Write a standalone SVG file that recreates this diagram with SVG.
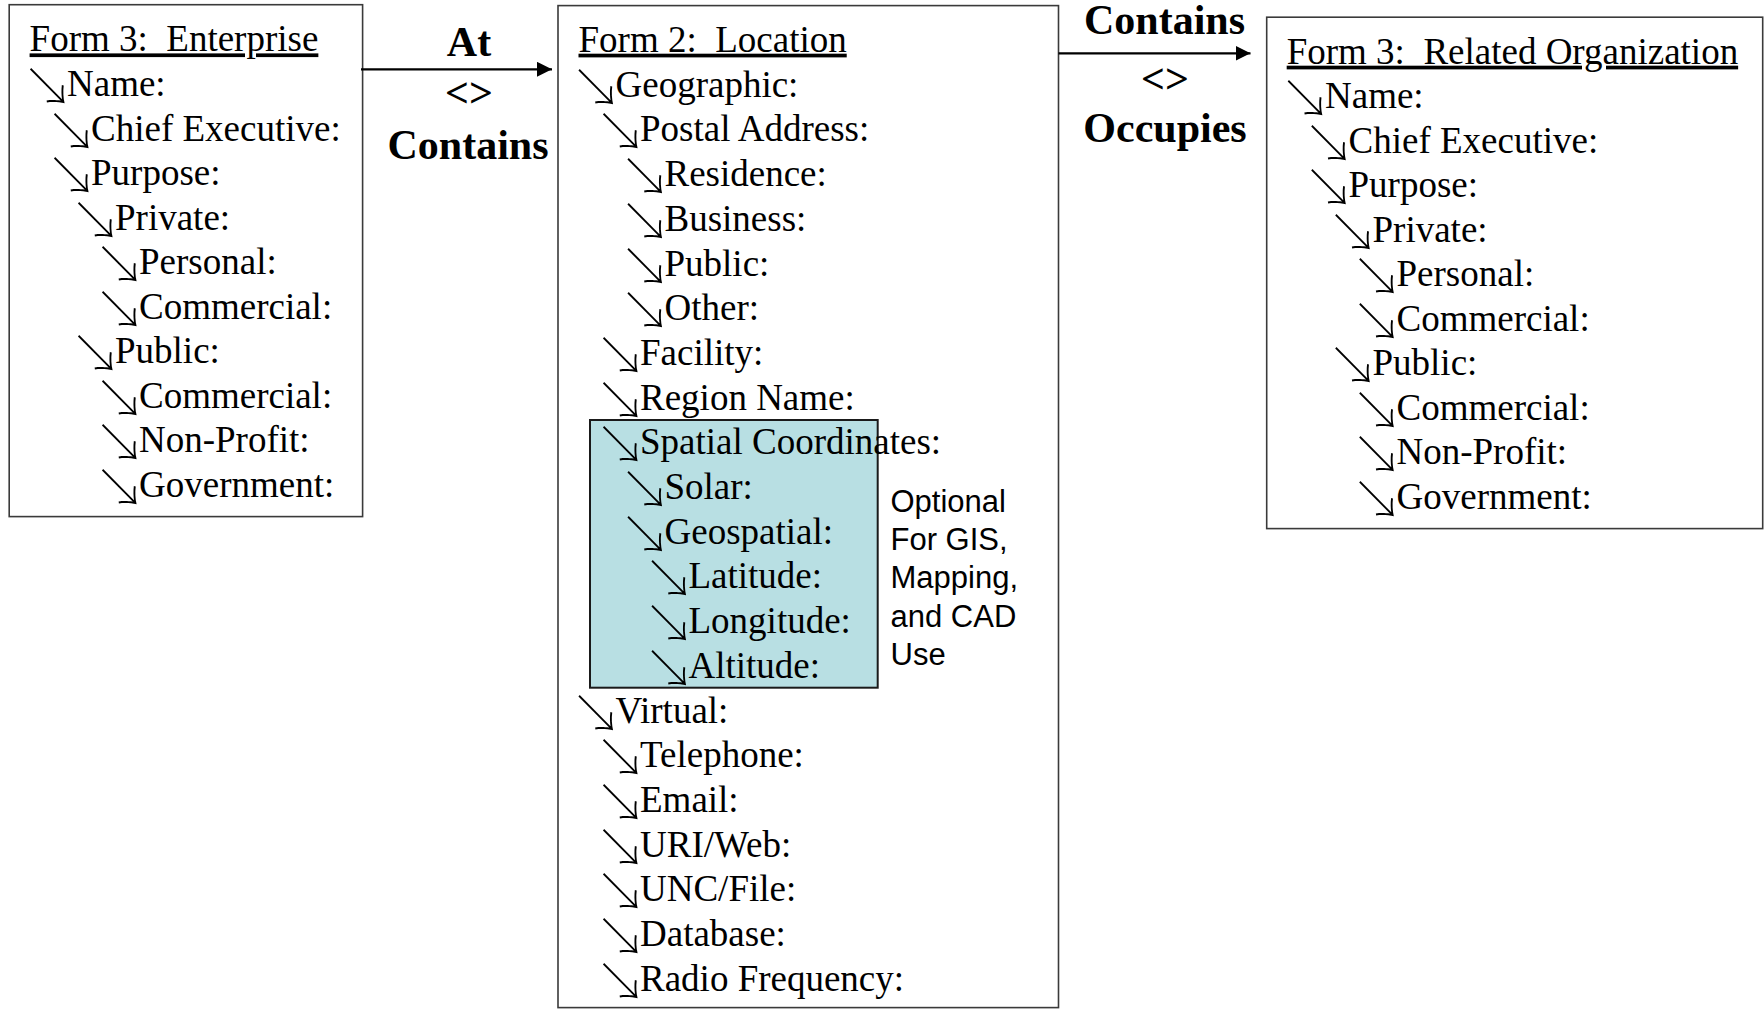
<svg xmlns="http://www.w3.org/2000/svg" width="1764" height="1009" viewBox="0 0 1764 1009">
<defs>
<style>
.box{fill:#fff;stroke:#3a3a3a;stroke-width:1.6}
.hl{fill:#b8dfe3;stroke:#1a1a1a;stroke-width:2}
.t{font-family:"Liberation Serif","Times New Roman",serif;font-size:37px;fill:#000;white-space:pre}
.u{text-decoration:underline}
.a{font-family:"Noto Sans CJK JP","DejaVu Sans",sans-serif;font-size:52px;font-weight:100}
.lbl{font-family:"Liberation Serif","Times New Roman",serif;font-size:42px;font-weight:bold;fill:#000;text-anchor:middle}
.note{font-family:"Liberation Sans",Arial,sans-serif;font-size:31px;fill:#000}
.conn{stroke:#000;stroke-width:2.2;fill:none}
</style>
<marker id="ah" viewBox="0 0 15 15" refX="15" refY="7.5" markerWidth="15" markerHeight="15" markerUnits="userSpaceOnUse" orient="auto">
<path d="M0,0 L15,7.5 L0,15 Z" fill="#000"/>
</marker>
</defs>

<g id="enterprise">
<rect class="box" x="9.2" y="4.7" width="353.4" height="511.9"/>
<text class="t u" x="29.6" y="51.4">Form 3:  Enterprise</text>
<text class="t" y="96"><tspan class="a" x="21.4" dy="10">↘</tspan><tspan x="67" dy="-10">Name:</tspan></text>
<text class="t" y="140.5"><tspan class="a" x="45.5" dy="10">↘</tspan><tspan x="91" dy="-10">Chief Executive:</tspan></text>
<text class="t" y="185"><tspan class="a" x="45.5" dy="10">↘</tspan><tspan x="91" dy="-10">Purpose:</tspan></text>
<text class="t" y="229.6"><tspan class="a" x="69.5" dy="10">↘</tspan><tspan x="115" dy="-10">Private:</tspan></text>
<text class="t" y="274.2"><tspan class="a" x="93.6" dy="10">↘</tspan><tspan x="139" dy="-10">Personal:</tspan></text>
<text class="t" y="318.7"><tspan class="a" x="93.6" dy="10">↘</tspan><tspan x="139" dy="-10">Commercial:</tspan></text>
<text class="t" y="363.3"><tspan class="a" x="69.5" dy="10">↘</tspan><tspan x="115" dy="-10">Public:</tspan></text>
<text class="t" y="407.8"><tspan class="a" x="93.6" dy="10">↘</tspan><tspan x="139" dy="-10">Commercial:</tspan></text>
<text class="t" y="452.4"><tspan class="a" x="93.6" dy="10">↘</tspan><tspan x="139" dy="-10">Non-Profit:</tspan></text>
<text class="t" y="497"><tspan class="a" x="93.6" dy="10">↘</tspan><tspan x="139" dy="-10">Government:</tspan></text>
</g>

<g id="location">
<rect class="box" x="558" y="5.6" width="500.5" height="1002"/>
<rect id="spatial-highlight" class="hl" x="590" y="420" width="287.7" height="267.7"/>
<text class="t u" x="578.5" y="51.7">Form 2:  Location</text>
<text class="t" y="96.7"><tspan class="a" x="570" dy="10">↘</tspan><tspan x="615.5" dy="-10">Geographic:</tspan></text>
<text class="t" y="141.4"><tspan class="a" x="594.5" dy="10">↘</tspan><tspan x="640" dy="-10">Postal Address:</tspan></text>
<text class="t" y="186.1"><tspan class="a" x="619" dy="10">↘</tspan><tspan x="664.5" dy="-10">Residence:</tspan></text>
<text class="t" y="230.8"><tspan class="a" x="619" dy="10">↘</tspan><tspan x="664.5" dy="-10">Business:</tspan></text>
<text class="t" y="275.5"><tspan class="a" x="619" dy="10">↘</tspan><tspan x="664.5" dy="-10">Public:</tspan></text>
<text class="t" y="320.2"><tspan class="a" x="619" dy="10">↘</tspan><tspan x="664.5" dy="-10">Other:</tspan></text>
<text class="t" y="364.9"><tspan class="a" x="594.5" dy="10">↘</tspan><tspan x="640" dy="-10">Facility:</tspan></text>
<text class="t" y="409.6"><tspan class="a" x="594.5" dy="10">↘</tspan><tspan x="640" dy="-10">Region Name:</tspan></text>
<text class="t" y="454.3"><tspan class="a" x="594.5" dy="10">↘</tspan><tspan x="640" dy="-10">Spatial Coordinates:</tspan></text>
<text class="t" y="499"><tspan class="a" x="619" dy="10">↘</tspan><tspan x="664.5" dy="-10">Solar:</tspan></text>
<text class="t" y="543.7"><tspan class="a" x="619" dy="10">↘</tspan><tspan x="664.5" dy="-10">Geospatial:</tspan></text>
<text class="t" y="588.4"><tspan class="a" x="643" dy="10">↘</tspan><tspan x="688.5" dy="-10">Latitude:</tspan></text>
<text class="t" y="633.1"><tspan class="a" x="643" dy="10">↘</tspan><tspan x="688.5" dy="-10">Longitude:</tspan></text>
<text class="t" y="677.8"><tspan class="a" x="643" dy="10">↘</tspan><tspan x="688.5" dy="-10">Altitude:</tspan></text>
<text class="t" y="722.5"><tspan class="a" x="570" dy="10">↘</tspan><tspan x="615.5" dy="-10">Virtual:</tspan></text>
<text class="t" y="767.2"><tspan class="a" x="594.5" dy="10">↘</tspan><tspan x="640" dy="-10">Telephone:</tspan></text>
<text class="t" y="811.9"><tspan class="a" x="594.5" dy="10">↘</tspan><tspan x="640" dy="-10">Email:</tspan></text>
<text class="t" y="856.6"><tspan class="a" x="594.5" dy="10">↘</tspan><tspan x="640" dy="-10">URI/Web:</tspan></text>
<text class="t" y="901.3"><tspan class="a" x="594.5" dy="10">↘</tspan><tspan x="640" dy="-10">UNC/File:</tspan></text>
<text class="t" y="946"><tspan class="a" x="594.5" dy="10">↘</tspan><tspan x="640" dy="-10">Database:</tspan></text>
<text class="t" y="990.7"><tspan class="a" x="594.5" dy="10">↘</tspan><tspan x="640" dy="-10">Radio Frequency:</tspan></text>
</g>

<g id="optional-note">
<text class="note" x="890.5" y="511.7">Optional</text>
<text class="note" x="890.5" y="550">For GIS,</text>
<text class="note" x="890.5" y="588.3">Mapping,</text>
<text class="note" x="890.5" y="626.6">and CAD</text>
<text class="note" x="890.5" y="665">Use</text>
</g>

<g id="related-organization">
<rect class="box" x="1266.7" y="17.2" width="496" height="511.4"/>
<text class="t u" x="1286.7" y="63.7">Form 3:  Related Organization</text>
<text class="t" y="108.2"><tspan class="a" x="1279.3" dy="10">↘</tspan><tspan x="1325" dy="-10">Name:</tspan></text>
<text class="t" y="152.7"><tspan class="a" x="1302.7" dy="10">↘</tspan><tspan x="1348.5" dy="-10">Chief Executive:</tspan></text>
<text class="t" y="197.2"><tspan class="a" x="1302.7" dy="10">↘</tspan><tspan x="1348.5" dy="-10">Purpose:</tspan></text>
<text class="t" y="241.7"><tspan class="a" x="1326.7" dy="10">↘</tspan><tspan x="1372.5" dy="-10">Private:</tspan></text>
<text class="t" y="286.2"><tspan class="a" x="1350.7" dy="10">↘</tspan><tspan x="1396.5" dy="-10">Personal:</tspan></text>
<text class="t" y="330.7"><tspan class="a" x="1350.7" dy="10">↘</tspan><tspan x="1396.5" dy="-10">Commercial:</tspan></text>
<text class="t" y="375.2"><tspan class="a" x="1326.7" dy="10">↘</tspan><tspan x="1372.5" dy="-10">Public:</tspan></text>
<text class="t" y="419.7"><tspan class="a" x="1350.7" dy="10">↘</tspan><tspan x="1396.5" dy="-10">Commercial:</tspan></text>
<text class="t" y="464.2"><tspan class="a" x="1350.7" dy="10">↘</tspan><tspan x="1396.5" dy="-10">Non-Profit:</tspan></text>
<text class="t" y="508.7"><tspan class="a" x="1350.7" dy="10">↘</tspan><tspan x="1396.5" dy="-10">Government:</tspan></text>
</g>

<g id="connectors">
<line class="conn" x1="361" y1="69.3" x2="552" y2="69.3" marker-end="url(#ah)"/>
<text class="lbl" x="469" y="56">At</text>
<text class="lbl" x="469" y="106.5">&lt;&gt;</text>
<text class="lbl" x="468" y="159.3">Contains</text>
<line class="conn" x1="1058.5" y1="53.3" x2="1250.5" y2="53.3" marker-end="url(#ah)"/>
<text class="lbl" x="1164.5" y="33.5">Contains</text>
<text class="lbl" x="1165" y="92.5">&lt;&gt;</text>
<text class="lbl" x="1165" y="141.7">Occupies</text>
</g>
</svg>
